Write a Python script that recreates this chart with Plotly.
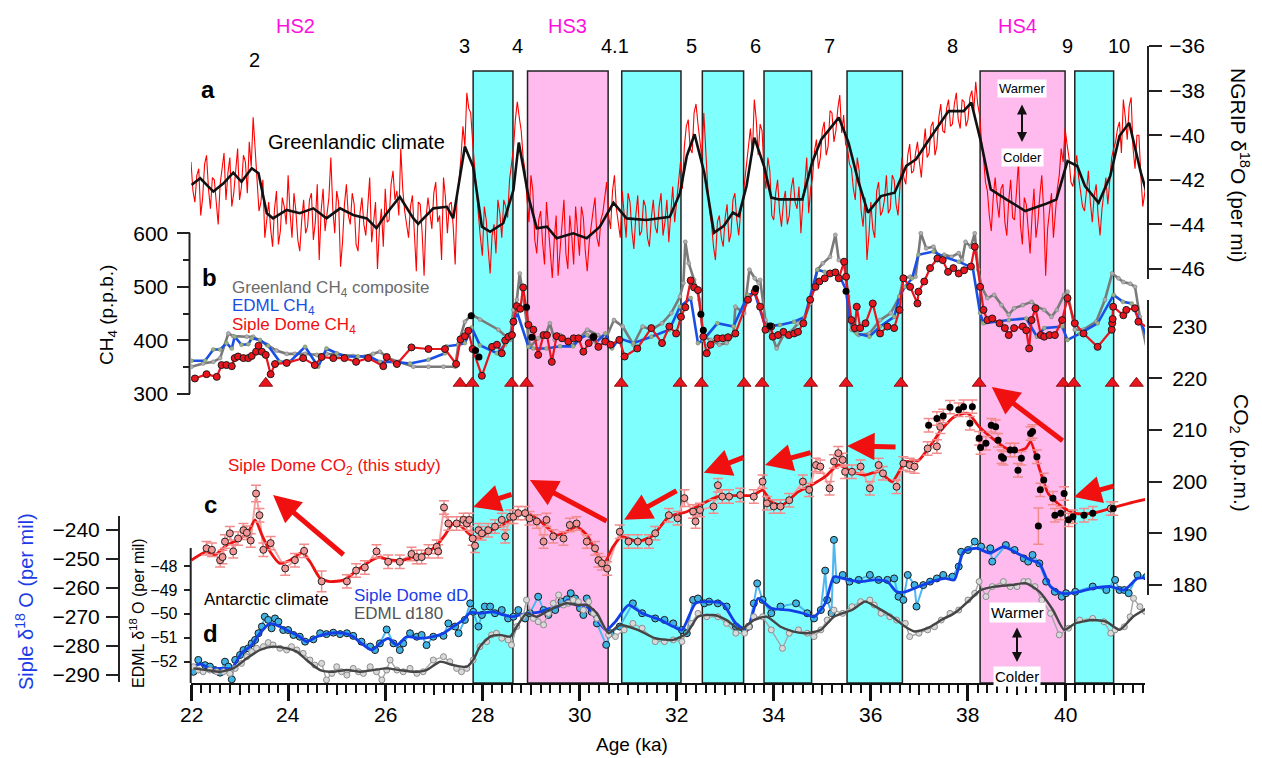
import plotly.graph_objects as go

# ======================= DATA =======================
# (a) NGRIP d18O raw record: values at 22.00, 22.08, ... and in-between values at 22.04, 22.12, ...
ngrip_start, ngrip_step = 22.0, 0.08
ngrip_raw = [
    -41.2, -43.0, -41.5, -42.8, -40.9, -43.3, -42.0, -44.0, -41.6, -42.9,
    -41.0, -42.6, -40.6, -42.3, -41.2, -40.3, -39.2, -41.8, -43.0, -44.6,
    -43.0, -45.0, -42.5, -44.3, -43.2, -41.8, -44.6, -43.4, -45.2, -42.9,
    -44.1, -42.6, -43.9, -45.6, -42.4, -43.6, -41.0, -44.4, -43.0, -44.8,
    -42.2, -44.0, -43.1, -45.2, -42.8, -44.5, -41.9, -43.8, -46.0, -43.3,
    -42.4, -43.8, -41.6, -42.5, -40.6, -43.4, -44.6, -42.7, -46.1, -43.1,
    -46.3, -42.8, -44.2, -42.1, -43.6, -41.9, -44.4, -43.0, -45.8, -42.0,
    -39.6, -38.1, -39.0, -41.5, -43.6, -45.4, -43.8, -46.2, -44.0, -42.9,
    -44.6, -43.2, -42.0, -40.6, -38.5, -39.8, -41.6, -43.9, -42.5, -45.3,
    -43.4, -45.8, -44.1, -46.4, -43.6, -45.1, -42.9, -46.0, -44.5, -43.2,
    -45.4, -43.7, -46.1, -44.0, -42.8, -45.0, -43.5, -42.1, -44.2, -41.8,
    -43.9, -42.5, -44.6, -43.0, -45.1, -42.7, -44.3, -43.2, -45.0, -42.9,
    -44.4, -42.6, -43.9, -44.8, -42.3, -43.0, -41.2, -40.5, -39.3, -40.8,
    -38.6, -40.2, -39.0, -42.3, -44.0, -45.6, -43.6, -45.0, -43.1, -44.4,
    -42.6, -44.5, -43.0, -41.2, -39.7, -38.4, -40.9, -39.8, -42.4, -41.6,
    -43.8, -42.0, -44.1, -42.5, -43.6, -41.9, -43.3, -44.4, -42.2, -43.5,
    -41.9, -40.2, -41.0, -39.4, -40.5, -39.0, -39.8, -38.2, -39.1, -40.6,
    -41.5, -42.9, -41.6, -44.1, -45.6, -43.0, -44.6, -42.1, -43.4, -41.8,
    -43.3, -42.0, -43.6, -41.0, -42.2, -40.4, -41.6, -40.3, -41.9, -39.7,
    -40.8, -39.4, -40.5, -38.6, -39.9, -38.4, -39.5, -38.1, -39.7, -38.5,
    -39.3, -38.0, -37.6, -39.1, -41.0, -42.5, -44.3, -41.9, -43.7, -42.2,
    -44.5, -42.0, -43.8, -41.2, -44.9, -43.1, -45.3, -42.4, -43.9, -41.8,
    -46.3, -43.5, -44.6, -42.4, -40.6, -39.7, -41.0, -42.3, -40.9, -42.5,
    -43.4, -41.6, -43.9, -42.2, -44.5, -42.6, -43.1, -41.0, -40.3, -39.4,
    -38.4, -40.2, -38.3, -41.5, -40.0, -43.2, -42.0,
]
ngrip_raw_mid = [
    -42.5, -41.8, -43.6, -41.3, -42.4, -41.9, -43.1, -42.2, -40.8, -41.7,
    -43.2, -41.5, -42.9, -40.9, -42.6, -41.4, -40.6, -43.4, -42.0, -43.9,
    -44.2, -43.3, -44.9, -42.8, -44.0, -43.5, -42.6, -44.7, -43.8, -44.4,
    -42.9, -44.7, -42.2, -43.4, -44.3, -42.8, -43.3, -42.5, -45.9, -43.1,
    -43.6, -42.6, -44.9, -43.5, -44.0, -42.9, -44.8, -43.0, -44.2, -45.0,
    -43.9, -42.2, -42.9, -43.6, -42.4, -44.1, -43.2, -44.4, -43.0, -44.4,
    -43.7, -43.5, -42.6, -43.9, -45.6, -42.8, -43.1, -44.1, -42.7, -41.0,
    -40.5, -38.8, -40.3, -42.6, -44.6, -43.2, -45.1, -44.5, -45.3, -43.5,
    -42.9, -43.7, -41.3, -39.3, -39.2, -41.0, -42.9, -41.8, -44.7, -43.8,
    -44.8, -43.0, -45.4, -44.7, -46.3, -44.0, -45.3, -43.6, -45.8, -44.3,
    -43.2, -45.2, -44.8, -43.4, -44.6, -43.8, -42.9, -43.6, -42.5, -43.3,
    -44.6, -43.7, -42.6, -44.3, -43.6, -44.5, -42.9, -44.6, -43.7, -44.1,
    -43.2, -44.5, -42.9, -43.5, -43.9, -41.8, -42.4, -39.6, -40.6, -39.0,
    -39.5, -41.0, -40.8, -43.4, -45.0, -43.9, -44.6, -43.7, -44.8, -42.9,
    -43.8, -43.4, -42.1, -40.5, -40.9, -39.3, -39.5, -41.6, -41.0, -43.6,
    -42.6, -43.4, -43.0, -44.0, -42.4, -43.0, -42.3, -43.0, -41.0, -42.4,
    -40.7, -41.5, -39.8, -40.9, -38.9, -40.3, -38.8, -39.9, -40.4, -41.3,
    -42.4, -41.0, -43.4, -42.8, -44.5, -44.2, -42.5, -43.6, -42.9, -43.5,
    -41.8, -43.1, -42.3, -41.9, -40.9, -41.7, -40.8, -41.2, -40.6, -41.0,
    -39.6, -40.9, -39.2, -39.8, -38.8, -39.6, -38.6, -39.3, -38.4, -39.6,
    -38.3, -38.9, -38.6, -40.3, -42.1, -43.6, -42.8, -43.0, -42.4, -43.9,
    -42.9, -43.7, -42.5, -44.0, -42.8, -44.2, -43.6, -44.6, -42.7, -43.4,
    -44.2, -42.6, -43.4, -41.8, -41.2, -40.4, -42.1, -41.6, -41.9, -43.2,
    -42.3, -43.0, -42.7, -43.6, -43.3, -41.9, -42.2, -40.6, -39.7, -40.8,
    -39.2, -38.7, -40.6, -40.0, -41.8, -42.6,
]

# (a) NGRIP smoothed (age ka, d18O)
ngrip_smooth = [
    (22.01, -42.23), (22.19, -41.93), (22.46, -42.53), (22.67, -42.16), (22.87, -41.68),
    (23.04, -42.09), (23.25, -41.48), (23.39, -41.71), (23.56, -43.5), (23.69, -43.73),
    (23.97, -43.35), (24.24, -43.5), (24.52, -43.28), (24.79, -43.73), (25.07, -43.28),
    (25.34, -43.58), (25.62, -43.73), (25.82, -44.17), (26.03, -43.5), (26.3, -42.76),
    (26.58, -43.73), (26.68, -43.98), (26.99, -43.28), (27.27, -43.21), (27.4, -43.73),
    (27.64, -40.51), (27.81, -41.41), (27.99, -44.1), (28.16, -44.33), (28.43, -43.95),
    (28.64, -42.46), (28.75, -40.33), (28.95, -42.76), (29.12, -44.17), (29.33, -44.1),
    (29.53, -44.62), (29.87, -44.4), (30.15, -44.62), (30.42, -44.1), (30.7, -43.03),
    (30.97, -43.73), (31.38, -43.8), (31.86, -43.66), (32.07, -42.6), (32.21, -40.93),
    (32.37, -39.96), (32.57, -41.68), (32.77, -44.37), (32.97, -44.07), (33.16, -43.47),
    (33.28, -43.62), (33.44, -42.28), (33.6, -40.11), (33.8, -41.38), (33.95, -42.8),
    (34.11, -42.88), (34.35, -42.88), (34.59, -42.88), (34.79, -41.23), (34.98, -40.19),
    (35.34, -39.21), (35.54, -40.33), (35.74, -42.05), (35.94, -43.47), (36.21, -42.73),
    (36.49, -42.58), (36.73, -41.38), (36.93, -41.08), (37.2, -40.19), (37.6, -38.92),
    (37.91, -38.92), (38.07, -38.54), (38.27, -40.33), (38.47, -42.43), (38.79, -42.88),
    (39.18, -43.4), (39.58, -43.1), (39.82, -42.88), (40.05, -41.16), (40.25, -41.38),
    (40.41, -42.28), (40.69, -43.03), (40.93, -41.83), (41.12, -40.04), (41.32, -39.44),
    (41.56, -41.68), (41.68, -42.58),
]

# (b) CH4 records (age ka, ppb)
greenland_ch4 = [
    (22.01, 351), (22.25, 357), (22.46, 360), (22.6, 367), (22.77, 413), (22.87, 408),
    (23.15, 407), (23.28, 407), (23.56, 392), (23.76, 381), (23.97, 375), (24.14, 375),
    (24.35, 375), (24.59, 373), (24.79, 375), (25.03, 373), (25.34, 371), (25.58, 370),
    (25.75, 375), (25.89, 379), (26.06, 367), (26.27, 360), (26.58, 351), (26.89, 351),
    (27.2, 351), (27.44, 351), (27.51, 394), (27.64, 435), (27.78, 448), (27.95, 439),
    (28.33, 420), (28.57, 401), (28.64, 457), (28.71, 476), (28.77, 525), (28.84, 482),
    (28.91, 432), (28.98, 388), (29.15, 404), (29.29, 407), (29.39, 432), (29.49, 401),
    (29.6, 410), (29.73, 401), (29.84, 391), (29.98, 401), (30.16, 420), (30.38, 410),
    (30.53, 401), (30.71, 438), (30.89, 426), (31.11, 392), (31.3, 426), (31.48, 420),
    (31.7, 432), (31.89, 451), (32.07, 482), (32.14, 507), (32.18, 584), (32.25, 544),
    (32.36, 513), (32.47, 476), (32.55, 407), (32.7, 401), (32.88, 392), (33.03, 395),
    (33.17, 410), (33.21, 463), (33.39, 451), (33.5, 532), (33.61, 516), (33.69, 507),
    (33.72, 513), (33.83, 438), (33.95, 413), (34.06, 385), (34.2, 410), (34.35, 416),
    (34.5, 432), (34.61, 435), (34.75, 469), (34.9, 532), (35.01, 544), (35.16, 556),
    (35.27, 597), (35.34, 550), (35.45, 544), (35.53, 482), (35.6, 420), (35.75, 410),
    (35.97, 413), (36.19, 438), (36.41, 451), (36.59, 482), (36.67, 516), (36.81, 519),
    (36.92, 519), (37.03, 600), (37.14, 572), (37.29, 575), (37.4, 556), (37.51, 560),
    (37.66, 556), (37.81, 563), (37.88, 550), (37.95, 584), (38.06, 575), (38.14, 600),
    (38.21, 532), (38.28, 500), (38.4, 479), (38.54, 485), (38.69, 466), (38.84, 448),
    (38.95, 460), (39.13, 466), (39.31, 472), (39.42, 463), (39.57, 457), (39.72, 444),
    (39.83, 457), (39.98, 485), (40.05, 491), (40.2, 420), (40.38, 420), (40.64, 435),
    (40.82, 476), (40.97, 525), (41.1, 516), (41.2, 509), (41.34, 506), (41.44, 500),
    (41.54, 444), (41.69, 382),
]
edml_ch4 = [
    (22.01, 362), (22.29, 362), (22.46, 383), (22.6, 383), (22.73, 395), (22.84, 385),
    (22.9, 407), (23.04, 392), (23.18, 393), (23.25, 404), (23.42, 401), (23.59, 390),
    (23.83, 360), (24.03, 360), (24.35, 388), (24.62, 351), (24.79, 385), (25.0, 376),
    (25.2, 370), (25.44, 370), (25.68, 370), (25.89, 360), (26.17, 360), (26.51, 357),
    (26.89, 364), (27.23, 376), (27.26, 389), (27.51, 392), (27.64, 395), (27.78, 424),
    (27.95, 391), (28.3, 376), (28.47, 392), (28.57, 404), (28.71, 454), (28.95, 388),
    (29.05, 385), (29.32, 385), (29.6, 389), (29.87, 389), (30.01, 404), (30.16, 410),
    (30.34, 396), (30.53, 413), (30.67, 385), (30.82, 404), (31.11, 395), (31.48, 407),
    (31.85, 420), (32.07, 463), (32.29, 479), (32.44, 395), (32.55, 401), (32.84, 432),
    (33.17, 426), (33.47, 485), (33.61, 488), (33.83, 426), (34.13, 429), (34.42, 435),
    (34.64, 444), (34.9, 532), (35.05, 528), (35.16, 525), (35.27, 525), (35.38, 516),
    (35.49, 494), (35.56, 438), (35.71, 413), (35.97, 407), (36.19, 426), (36.48, 444),
    (36.59, 482), (36.7, 500), (36.85, 516), (36.98, 560), (37.29, 566), (37.51, 556),
    (37.81, 547), (38.1, 535), (38.25, 451), (38.32, 432), (38.84, 438), (39.2, 441),
    (39.42, 407), (39.57, 423), (39.94, 426), (40.05, 401), (40.31, 413), (40.67, 432),
    (41.0, 485), (41.19, 472), (41.37, 469), (41.69, 407),
]
siple_ch4 = [
    (22.08, 329), (22.32, 337), (22.53, 332), (22.63, 354), (22.73, 354), (22.84, 352),
    (22.9, 367), (22.97, 370), (23.08, 367), (23.18, 367), (23.25, 371), (23.34, 379),
    (23.39, 390), (23.46, 379), (23.54, 373), (23.64, 337), (23.73, 356), (23.97, 358),
    (24.31, 367), (24.55, 354), (24.69, 369), (24.93, 367), (25.16, 367), (25.4, 360),
    (25.65, 367), (25.96, 352), (26.03, 369), (26.24, 356), (26.54, 387), (26.89, 384),
    (27.23, 384), (27.46, 356), (27.55, 402), (27.64, 408), (27.71, 418), (27.8, 384),
    (27.99, 334), (28.2, 388), (28.3, 392), (28.4, 376), (28.47, 400), (28.54, 407),
    (28.61, 410), (28.64, 435), (28.71, 464), (28.78, 459), (28.84, 499), (28.95, 429),
    (29.05, 420), (29.15, 373), (29.26, 410), (29.33, 410), (29.43, 360), (29.53, 408),
    (29.64, 404), (29.77, 398), (29.88, 404), (29.98, 404), (30.08, 379), (30.19, 395),
    (30.29, 407), (30.39, 388), (30.53, 398), (30.64, 392), (30.82, 401), (30.93, 370),
    (31.19, 385), (31.48, 423), (31.7, 395), (31.85, 426), (31.99, 413), (32.09, 444),
    (32.18, 462), (32.29, 512), (32.36, 499), (32.44, 494), (32.55, 407), (32.62, 376),
    (32.7, 392), (32.84, 404), (32.95, 404), (33.06, 406), (33.21, 413), (33.47, 476),
    (33.61, 491), (33.72, 463), (33.83, 420), (33.95, 426), (33.98, 407), (34.09, 410),
    (34.2, 416), (34.31, 410), (34.42, 413), (34.5, 416), (34.61, 432), (34.75, 476),
    (34.86, 500), (34.94, 510), (35.05, 516), (35.16, 525), (35.27, 527), (35.34, 516),
    (35.45, 547), (35.49, 519), (35.6, 438), (35.67, 423), (35.71, 463), (35.78, 423),
    (35.89, 432), (36.04, 469), (36.19, 413), (36.34, 426), (36.48, 423), (36.59, 457),
    (36.67, 516), (36.81, 500), (36.96, 469), (36.98, 491), (37.1, 510), (37.22, 535),
    (37.37, 553), (37.48, 550), (37.59, 528), (37.7, 535), (37.81, 525), (37.92, 531),
    (38.06, 538), (38.14, 575), (38.25, 500), (38.32, 457), (38.4, 438), (38.5, 441),
    (38.65, 432), (38.76, 423), (38.84, 410), (38.95, 423), (39.13, 426), (39.2, 419),
    (39.26, 385), (39.31, 438), (39.39, 460), (39.5, 410), (39.57, 407), (39.68, 410),
    (39.79, 410), (39.94, 438), (40.05, 479), (40.2, 432), (40.38, 413), (40.67, 388),
    (40.96, 420), (40.97, 432), (40.98, 440), (40.99, 463), (41.2, 447), (41.26, 457),
    (41.44, 460), (41.51, 435), (41.71, 423),
]
ch4_black_dots = [
    (27.77, 446), (27.86, 381), (27.93, 369), (28.91, 462), (29.02, 406),
    (30.29, 406), (32.5, 449), (32.55, 419), (33.63, 497), (33.92, 427), (35.49, 492),
]
ch4_triangle_ages = [23.54, 27.54, 27.79, 28.6, 28.91, 30.86, 32.07, 32.51, 33.39,
                     33.76, 34.76, 35.49, 36.62, 38.23, 39.96, 40.18, 40.97, 41.47]
ch4_triangle_level = 320

# (c) Siple Dome CO2 (age ka, ppm, 1-sigma)
co2_siple = [
    (22.32, 187.1, 1.3), (22.43, 186.8, 1.3), (22.6, 184.8, 1.3), (22.65, 185.4, 1.3),
    (22.7, 188.4, 1.3), (22.8, 190.0, 1.3), (22.87, 186.5, 1.3), (22.97, 189.0, 1.3),
    (23.08, 190.6, 1.3), (23.15, 190.1, 1.3), (23.23, 188.6, 1.3), (23.34, 197.7, 1.6),
    (23.41, 193.5, 1.3), (23.49, 186.8, 1.3), (23.64, 188.1, 1.3), (23.94, 183.2, 1.3),
    (24.14, 184.8, 1.3), (24.33, 186.6, 1.3), (24.69, 180.7, 2.0), (25.21, 180.7, 1.3),
    (25.4, 182.8, 1.3), (25.58, 183.4, 1.3), (25.82, 186.5, 1.3), (26.06, 184.5, 1.3),
    (26.3, 184.5, 1.3), (26.54, 186.0, 1.3), (26.65, 185.4, 1.3), (26.75, 185.4, 1.3),
    (26.89, 186.5, 1.3), (27.06, 187.4, 1.3), (27.09, 186.5, 1.3), (27.21, 195.0, 1.3),
    (27.3, 191.9, 1.3), (27.47, 191.9, 1.3), (27.61, 192.6, 1.3), (27.68, 191.9, 1.3),
    (27.73, 192.6, 1.3), (27.8, 189.0, 1.3), (27.85, 187.6, 1.3), (27.92, 190.6, 1.3),
    (27.99, 190.0, 1.3), (28.12, 190.6, 1.3), (28.26, 191.3, 1.3), (28.4, 192.6, 1.3),
    (28.47, 189.4, 1.3), (28.57, 193.2, 1.3), (28.64, 193.2, 1.3), (28.74, 193.9, 1.3),
    (28.88, 193.9, 1.3), (28.97, 192.9, 1.3), (29.12, 192.3, 1.3), (29.26, 188.4, 1.3),
    (29.32, 192.6, 1.3), (29.46, 189.4, 1.3), (29.67, 189.0, 1.3), (29.8, 191.6, 1.3),
    (29.94, 191.9, 1.3), (30.15, 188.4, 1.3), (30.32, 187.1, 1.3), (30.39, 184.8, 1.3),
    (30.46, 184.2, 1.3), (30.57, 183.2, 1.3), (30.83, 190.3, 1.3), (31.01, 188.4, 1.3),
    (31.2, 188.4, 1.3), (31.43, 188.4, 1.3), (31.56, 190.0, 1.3), (31.84, 193.5, 1.3),
    (32.02, 192.9, 1.3), (32.16, 196.8, 1.6), (32.34, 194.2, 1.3), (32.39, 192.3, 1.3),
    (32.48, 194.5, 1.3), (32.76, 195.2, 1.3), (32.85, 199.3, 1.3), (32.94, 197.1, 1.3),
    (33.08, 197.1, 1.3), (33.31, 197.4, 1.3), (33.59, 197.1, 1.3), (33.77, 200.0, 1.3),
    (33.86, 195.8, 1.3), (34.0, 195.2, 1.3), (34.14, 195.2, 1.3), (34.32, 196.4, 1.3),
    (34.6, 200.0, 1.3), (34.73, 198.4, 1.3), (34.87, 203.2, 1.3), (34.96, 202.9, 1.3),
    (35.15, 198.7, 1.3), (35.24, 203.9, 1.3), (35.33, 205.5, 1.3), (35.42, 204.2, 1.3),
    (35.47, 201.9, 1.3), (35.61, 201.9, 1.3), (35.79, 202.9, 1.3), (35.98, 198.7, 1.3),
    (36.16, 203.2, 1.3), (36.25, 201.6, 1.3), (36.53, 199.0, 1.3), (36.67, 203.5, 1.3),
    (36.8, 203.2, 1.3), (36.9, 202.9, 1.3), (37.17, 206.4, 1.3), (37.36, 206.8, 1.3),
    (37.43, 210.6, 1.3), (40.94, 194.8, 1.3),
]
co2_black = [
    (37.19, 210.9, 1.3), (37.36, 212.2, 1.3), (37.49, 212.7, 1.3), (37.63, 214.4, 1.3),
    (37.81, 213.9, 1.3), (37.91, 214.5, 1.3), (38.04, 211.3, 1.3), (38.09, 214.5, 1.3),
    (38.23, 208.4, 1.3), (38.26, 206.6, 1.3), (38.37, 207.4, 1.3), (38.48, 210.9, 1.3),
    (38.57, 210.6, 1.3), (38.62, 208.0, 1.3), (38.69, 204.8, 1.3), (38.73, 204.5, 1.3),
    (38.87, 206.1, 1.3), (38.96, 206.1, 1.3), (39.03, 202.2, 1.3), (39.1, 204.5, 1.3),
    (39.29, 209.3, 1.3), (39.33, 209.7, 1.3), (39.42, 204.8, 1.3), (39.45, 191.4, 3.5),
    (39.49, 198.4, 1.3), (39.56, 200.3, 1.3), (39.75, 196.8, 1.3), (39.79, 193.5, 1.3),
    (39.91, 193.9, 1.3), (39.98, 197.7, 1.3), (40.07, 192.6, 1.3), (40.16, 193.2, 1.3),
    (40.39, 193.5, 1.3), (40.57, 193.9, 1.3), (40.99, 194.8, 1.3),
]
co2_smooth = [
    (22.01, 184.8), (22.32, 186.45), (22.49, 185.8), (22.73, 187.7), (22.97, 188.7),
    (23.18, 190.3), (23.32, 192.6), (23.46, 189.7), (23.63, 186.45), (23.83, 184.2),
    (24.04, 184.8), (24.28, 186.25), (24.45, 184.5), (24.66, 181.3), (24.86, 180.65),
    (25.14, 180.97), (25.34, 182.26), (25.62, 184.2), (25.86, 185.35), (26.1, 184.84),
    (26.3, 184.7), (26.58, 185.35), (26.85, 186.25), (27.06, 187.7), (27.23, 189.67),
    (27.4, 191.9), (27.57, 191.3), (27.75, 189.67), (27.95, 189.03), (28.12, 190.3),
    (28.36, 191.3), (28.57, 192.57), (28.71, 193.54), (28.91, 193.86), (29.12, 192.9),
    (29.32, 191.3), (29.53, 189.67), (29.74, 190.3), (29.94, 191.3), (30.15, 189.67),
    (30.36, 186.13), (30.51, 184.32), (30.69, 187.41), (30.87, 189.35), (31.2, 188.38),
    (31.52, 189.67), (31.84, 193.2), (32.21, 194.18), (32.48, 195.47), (32.85, 197.08),
    (33.22, 197.28), (33.59, 197.4), (33.77, 198.37), (33.95, 196.12), (34.18, 195.47),
    (34.51, 198.05), (34.78, 199.34), (35.06, 200.95), (35.33, 203.21), (35.61, 201.92),
    (35.88, 201.27), (36.16, 201.92), (36.44, 199.99), (36.71, 203.85), (36.99, 204.18),
    (37.26, 207.4), (37.45, 209.98), (37.72, 212.56), (38.0, 213.2), (38.23, 210.62),
    (38.46, 208.69), (38.73, 206.75), (38.96, 205.79), (39.19, 206.43), (39.29, 207.72),
    (39.47, 202.56), (39.65, 197.73), (39.93, 195.15), (40.21, 193.86), (40.57, 193.86),
    (40.94, 194.83), (41.31, 195.8), (41.75, 196.76),
]
# CO2 lead/lag arrows: ((tail age, tail ppm), (head age, head ppm))
co2_arrows = [
    ((25.17, 185.6), (23.69, 197.4)), ((28.63, 197.6), (27.81, 195.1)),
    ((30.59, 192.2), (28.98, 200.3)), ((32.03, 198.4), (30.92, 192.6)),
    ((33.41, 204.8), (32.56, 201.7)), ((34.79, 205.7), (33.82, 203.2)),
    ((36.54, 206.7), (35.51, 206.9)), ((39.98, 207.7), (38.49, 218.3)),
    ((41.03, 199.2), (40.18, 197.0)),
]

# (d) Antarctic isotopes
siple_dd = [
    (22.05, -288.9), (22.15, -284.8), (22.29, -286.6), (22.39, -287.1), (22.49, -288.3),
    (22.6, -289.2), (22.7, -285.4), (22.77, -287.1), (22.84, -291.5), (22.91, -284.8),
    (23.01, -283.1), (23.08, -281.4), (23.18, -280.8), (23.25, -279.1), (23.32, -277.9),
    (23.39, -275.6), (23.46, -273.3), (23.52, -269.9), (23.59, -271.0), (23.66, -273.9),
    (23.73, -270.5), (23.8, -271.6), (23.9, -274.5), (24.0, -274.5), (24.11, -276.2),
    (24.24, -276.8), (24.35, -278.5), (24.52, -277.7), (24.66, -275.6), (24.79, -275.9),
    (24.93, -275.4), (25.07, -275.9), (25.21, -275.6), (25.34, -276.5), (25.51, -278.5),
    (25.69, -280.2), (25.79, -281.4), (25.89, -279.1), (26.03, -274.3), (26.17, -279.1),
    (26.3, -281.4), (26.37, -279.1), (26.51, -275.6), (26.65, -276.8), (26.75, -276.2),
    (26.85, -279.7), (26.99, -276.8), (27.2, -276.5), (27.3, -272.2), (27.44, -273.3),
    (27.51, -275.6), (27.64, -271.0), (27.75, -265.3), (27.81, -268.2), (27.92, -273.3),
    (27.99, -269.3), (28.05, -266.4), (28.16, -266.4), (28.26, -268.7), (28.4, -267.6),
    (28.53, -270.5), (28.64, -269.9), (28.74, -267.6), (28.88, -270.5), (28.98, -268.7),
    (29.15, -263.0), (29.26, -267.6), (29.36, -269.3), (29.5, -267.6), (29.63, -264.7),
    (29.74, -263.9), (29.82, -261.8), (29.91, -263.6), (30.01, -267.0), (30.08, -269.3),
    (30.15, -263.6), (30.25, -268.2), (30.36, -272.2), (30.55, -279.6), (30.64, -275.6),
    (30.83, -273.3), (31.1, -265.3), (31.29, -268.7), (31.56, -270.5), (31.75, -271.0),
    (31.93, -272.2), (32.11, -274.5), (32.21, -275.6), (32.34, -264.1), (32.44, -263.6),
    (32.57, -265.3), (32.67, -264.7), (32.85, -265.3), (33.03, -266.4), (33.22, -273.3),
    (33.4, -274.5), (33.49, -273.3), (33.59, -265.3), (33.66, -258.4), (33.77, -264.1),
    (33.95, -268.7), (34.14, -266.4), (34.46, -265.3), (34.69, -268.7), (34.83, -270.5),
    (34.97, -267.6), (35.06, -254.0), (35.1, -264.1), (35.19, -268.7), (35.24, -243.4),
    (35.29, -257.2), (35.42, -255.5), (35.56, -257.8), (35.75, -257.2), (35.98, -255.5),
    (36.16, -257.2), (36.34, -257.2), (36.48, -256.7), (36.57, -263.0), (36.67, -264.1),
    (36.76, -255.5), (36.9, -259.0), (36.94, -266.4), (37.08, -259.0), (37.22, -257.8),
    (37.36, -256.7), (37.49, -255.5), (37.68, -256.1), (37.81, -252.6), (37.86, -247.5),
    (38.0, -246.9), (38.14, -244.0), (38.27, -245.7), (38.46, -246.3), (38.5, -250.9),
    (38.78, -245.2), (38.96, -246.9), (39.15, -249.8), (39.24, -250.9), (39.33, -248.6),
    (39.47, -251.5), (39.61, -257.8), (39.79, -261.3), (39.93, -263.0), (40.02, -261.8),
    (40.21, -261.3), (40.57, -259.5), (40.85, -260.7), (41.03, -257.2), (41.12, -260.7),
    (41.22, -260.7), (41.31, -261.8), (41.49, -255.5), (41.68, -256.1),
]
siple_dd_smooth = [
    (22.05, -287.1), (22.19, -286.2), (22.39, -287.7), (22.67, -287.7), (22.84, -287.7),
    (23.04, -282.5), (23.25, -279.7), (23.42, -275.6), (23.63, -272.2), (23.83, -273.3),
    (24.04, -275.1), (24.24, -276.8), (24.38, -278.5), (24.59, -276.8), (24.86, -275.6),
    (25.14, -275.6), (25.34, -276.8), (25.51, -279.1), (25.72, -281.4), (25.89, -279.1),
    (26.06, -277.4), (26.24, -279.7), (26.44, -276.8), (26.72, -277.4), (26.99, -276.8),
    (27.2, -275.6), (27.4, -273.3), (27.61, -271.0), (27.75, -268.5), (27.95, -268.7),
    (28.23, -268.2), (28.43, -269.3), (28.64, -269.9), (28.77, -269.3), (28.98, -268.7),
    (29.19, -268.2), (29.39, -267.0), (29.6, -266.2), (29.77, -264.1), (29.94, -265.9),
    (30.15, -266.4), (30.36, -271.0), (30.55, -274.5), (30.74, -271.6), (31.01, -265.9),
    (31.29, -268.7), (31.66, -271.0), (31.93, -273.3), (32.11, -274.5), (32.39, -265.3),
    (32.67, -264.7), (32.94, -265.3), (33.22, -272.2), (33.45, -274.5), (33.68, -263.6),
    (33.95, -267.0), (34.32, -267.6), (34.6, -268.7), (34.83, -269.9), (35.06, -265.3),
    (35.24, -256.1), (35.42, -256.7), (35.79, -257.8), (36.07, -257.2), (36.34, -257.8),
    (36.53, -261.3), (36.71, -261.3), (36.99, -259.5), (37.26, -257.8), (37.54, -256.7),
    (37.72, -257.2), (37.91, -247.5), (38.18, -246.3), (38.46, -248.0), (38.73, -245.7),
    (39.01, -248.0), (39.29, -250.3), (39.47, -251.5), (39.7, -259.5), (39.93, -261.8),
    (40.21, -261.6), (40.57, -260.1), (40.94, -259.5), (41.22, -260.7), (41.49, -256.7),
    (41.75, -256.7),
]
edml_d18o = [
    (22.05, -52.21), (22.15, -52.35), (22.25, -52.42), (22.39, -52.35), (22.53, -52.42),
    (22.67, -52.42), (22.8, -52.49), (22.91, -52.28), (23.04, -52.07), (23.15, -51.79),
    (23.25, -51.58), (23.35, -51.44), (23.49, -51.37), (23.59, -51.2), (23.69, -51.3),
    (23.83, -51.44), (23.97, -51.51), (24.07, -51.37), (24.18, -51.51), (24.31, -51.65),
    (24.45, -51.93), (24.55, -52.14), (24.69, -52.07), (24.79, -52.76), (24.9, -52.49),
    (25.0, -52.21), (25.1, -52.42), (25.21, -52.56), (25.34, -52.28), (25.45, -52.42),
    (25.55, -52.49), (25.69, -52.21), (25.82, -52.42), (25.93, -52.76), (26.03, -52.35),
    (26.1, -51.93), (26.24, -52.35), (26.37, -52.42), (26.51, -52.28), (26.65, -52.49),
    (26.78, -52.42), (26.99, -51.93), (27.2, -51.79), (27.33, -52.0), (27.47, -52.28),
    (27.57, -52.42), (27.68, -52.28), (27.81, -51.93), (27.95, -51.37), (28.09, -51.16),
    (28.19, -50.88), (28.29, -50.81), (28.4, -51.02), (28.53, -51.09), (28.6, -51.3),
    (28.71, -50.53), (28.84, -50.12), (28.91, -49.42), (29.05, -50.19), (29.15, -50.33),
    (29.26, -50.46), (29.36, -49.98), (29.46, -49.56), (29.57, -49.21), (29.67, -49.63),
    (29.77, -49.56), (29.87, -49.42), (29.98, -49.49), (30.08, -49.84), (30.19, -49.49),
    (30.29, -49.98), (30.36, -50.19), (30.6, -50.88), (30.74, -50.95), (30.92, -50.67),
    (31.1, -50.4), (31.29, -50.6), (31.56, -51.16), (31.75, -51.16), (31.93, -51.09),
    (32.11, -51.16), (32.3, -50.4), (32.44, -49.98), (32.62, -50.12), (32.85, -50.12),
    (33.03, -50.4), (33.22, -50.81), (33.4, -50.81), (33.49, -50.54), (33.59, -50.12),
    (33.77, -50.12), (33.95, -50.67), (34.18, -51.44), (34.32, -50.81), (34.51, -50.67),
    (34.69, -50.81), (34.83, -50.95), (34.97, -50.67), (35.1, -50.26), (35.24, -49.84),
    (35.42, -49.98), (35.61, -49.7), (35.79, -49.49), (35.98, -49.42), (36.07, -49.63),
    (36.21, -49.98), (36.39, -50.12), (36.53, -50.26), (36.71, -50.4), (36.8, -50.95),
    (36.99, -50.81), (37.17, -50.67), (37.31, -50.54), (37.45, -50.26), (37.63, -49.98),
    (37.81, -49.84), (38.0, -49.42), (38.14, -49.14), (38.23, -48.65), (38.37, -49.28),
    (38.5, -48.86), (38.73, -48.65), (38.87, -48.86), (39.01, -48.86), (39.15, -48.65),
    (39.24, -48.65), (39.38, -48.86), (39.52, -49.42), (39.7, -49.98), (39.88, -50.88),
    (40.07, -50.6), (40.3, -50.26), (40.57, -50.19), (40.8, -50.33), (40.94, -50.81),
    (41.03, -50.67), (41.22, -50.54), (41.34, -50.12), (41.41, -49.35), (41.54, -49.7),
    (41.65, -49.9),
]
edml_d18o_smooth = [
    (22.05, -52.28), (22.32, -52.35), (22.6, -52.42), (22.87, -52.28), (23.15, -51.86),
    (23.42, -51.51), (23.69, -51.37), (23.97, -51.44), (24.18, -51.58), (24.38, -51.93),
    (24.66, -52.35), (24.93, -52.42), (25.21, -52.35), (25.48, -52.42), (25.75, -52.35),
    (26.03, -52.28), (26.3, -52.35), (26.58, -52.42), (26.85, -52.35), (27.13, -52.0),
    (27.4, -52.14), (27.68, -52.21), (27.81, -51.93), (27.95, -51.37), (28.16, -50.95),
    (28.36, -50.88), (28.57, -50.95), (28.71, -50.53), (28.91, -49.98), (29.12, -50.12),
    (29.32, -49.91), (29.53, -49.7), (29.74, -49.56), (29.94, -49.63), (30.15, -49.63),
    (30.36, -49.98), (30.6, -50.81), (30.83, -50.47), (31.2, -50.67), (31.56, -51.02),
    (31.93, -51.09), (32.21, -50.81), (32.44, -50.12), (32.76, -50.05), (33.03, -50.26),
    (33.31, -50.67), (33.59, -50.26), (33.86, -50.12), (34.14, -50.54), (34.41, -50.74),
    (34.69, -50.81), (34.97, -50.67), (35.24, -50.12), (35.61, -49.84), (35.88, -49.49),
    (36.16, -49.77), (36.44, -50.12), (36.71, -50.54), (36.9, -50.74), (37.17, -50.6),
    (37.45, -50.26), (37.72, -49.98), (38.0, -49.49), (38.27, -49.0), (38.55, -48.86),
    (38.92, -48.79), (39.19, -48.72), (39.47, -49.07), (39.75, -49.84), (39.98, -50.67),
    (40.21, -50.4), (40.57, -50.26), (40.85, -50.33), (41.12, -50.67), (41.4, -50.12),
    (41.75, -49.7),
]

# Stadial / Heinrich stadial intervals (ka)
cyan_bands = [(27.81, 28.63), (30.87, 32.09), (32.53, 33.38), (33.80, 34.78),
              (35.51, 36.65), (40.20, 41.00)]
pink_bands = [(28.93, 30.59), (38.25, 40.00)]
event_labels = ["2", "3", "4", "4.1", "5", "6", "7", "8", "9", "10"]
event_ages = [23.30, 27.64, 28.72, 30.73, 32.31, 33.62, 35.14, 37.68, 40.04, 41.12]
hs_labels = ["HS2", "HS3", "HS4"]
hs_ages = [24.16, 29.76, 39.02]
age_ticks = [22, 24, 26, 28, 30, 32, 34, 36, 38, 40]

# ======================= LAYOUT GEOMETRY =======================
# page body has an 8 px margin: the figure is shifted by OFF px on screen
OFF = 8
W, H = 1262 - OFF, 758 - OFF
FONT = "Liberation Sans, Arial, Helvetica, sans-serif"
NARROW = "Liberation Sans Narrow, Liberation Sans, Arial, sans-serif"


def px(x):
    return (x - OFF) / W


def py(y):
    return 1 - (y - OFF) / H


X_LEFT, X_RIGHT, Y_BOT = 191, 1145, 683
AGE_MIN = 22.0
AGE_MAX = AGE_MIN + (X_RIGHT - X_LEFT) / 48.56
YDOM = [py(Y_BOT), 1.0]


def yrange(v1, p1, v2, p2):
    s = (v2 - v1) / (p2 - p1)
    return [v1 + (Y_BOT - p1) * s, v1 + (OFF - p1) * s]


def unzip(pairs, i):
    return [p[i] for p in pairs]


def with_gaps(pairs, max_gap=1.0):
    xs, ys = [], []
    prev = None
    for p in pairs:
        if prev is not None and p[0] - prev > max_gap:
            xs.append(None)
            ys.append(None)
        xs.append(p[0])
        ys.append(p[1])
        prev = p[0]
    return xs, ys


fig = go.Figure()

# ---- panel a
ngrip_age, ngrip_val = [], []
for i, v in enumerate(ngrip_raw):
    ngrip_age.append(round(ngrip_start + ngrip_step * i, 3))
    ngrip_val.append(v)
    if i < len(ngrip_raw_mid):
        ngrip_age.append(round(ngrip_start + ngrip_step * (i + 0.5), 3))
        ngrip_val.append(ngrip_raw_mid[i])
fig.add_trace(go.Scatter(x=ngrip_age, y=ngrip_val, mode="lines",
                         line=dict(color="#FF0000", width=1.1), yaxis="y"))
fig.add_trace(go.Scatter(x=unzip(ngrip_smooth, 0), y=unzip(ngrip_smooth, 1), mode="lines",
                         line=dict(color="#111111", width=2.6), yaxis="y"))

# ---- panel b
fig.add_trace(go.Scatter(x=unzip(greenland_ch4, 0), y=unzip(greenland_ch4, 1), mode="lines+markers",
                         line=dict(color="#7A7A7A", width=2.6),
                         marker=dict(size=4, color="#B0B0B0", line=dict(color="#808080", width=0.6)),
                         yaxis="y2"))
fig.add_trace(go.Scatter(x=unzip(edml_ch4, 0), y=unzip(edml_ch4, 1), mode="lines+markers",
                         line=dict(color="#1A4FE6", width=2.6),
                         marker=dict(size=4, color="#9DB08A", line=dict(color="#6F8A5A", width=0.5)),
                         yaxis="y2"))
fig.add_trace(go.Scatter(x=unzip(siple_ch4, 0), y=unzip(siple_ch4, 1), mode="lines+markers",
                         line=dict(color="#E8141E", width=2.2),
                         marker=dict(size=7, color="#E8141E", line=dict(color="#1A1A1A", width=1)),
                         yaxis="y2"))
fig.add_trace(go.Scatter(x=unzip(ch4_black_dots, 0), y=unzip(ch4_black_dots, 1), mode="markers",
                         marker=dict(size=7, color="#000000"), yaxis="y2"))
fig.add_trace(go.Scatter(x=ch4_triangle_ages, y=[ch4_triangle_level] * len(ch4_triangle_ages),
                         mode="markers",
                         marker=dict(symbol="triangle-up", size=12, color="#E8141E",
                                     line=dict(color="#7A0000", width=0.8)),
                         yaxis="y2", cliponaxis=False))

# ---- panel d
fig.add_trace(go.Scatter(x=unzip(edml_d18o, 0), y=unzip(edml_d18o, 1), mode="lines+markers",
                         line=dict(color="#A6A6A6", width=1.4),
                         marker=dict(size=6, color="#D9D9D9", line=dict(color="#8C8C8C", width=1)),
                         yaxis="y5"))
fig.add_trace(go.Scatter(x=unzip(edml_d18o_smooth, 0), y=unzip(edml_d18o_smooth, 1), mode="lines",
                         line=dict(color="#454545", width=2.4, shape="spline", smoothing=0.6),
                         yaxis="y5"))
fig.add_trace(go.Scatter(x=unzip(siple_dd, 0), y=unzip(siple_dd, 1), mode="lines+markers",
                         line=dict(color="#4DB8F0", width=2),
                         marker=dict(size=7, color="#3FB4E4", line=dict(color="#1A1A1A", width=1)),
                         yaxis="y4"))
fig.add_trace(go.Scatter(x=unzip(siple_dd_smooth, 0), y=unzip(siple_dd_smooth, 1), mode="lines",
                         line=dict(color="#1240E6", width=2.8, shape="spline", smoothing=0.6),
                         yaxis="y4"))

# ---- panel c
gx, gy = with_gaps(co2_siple)
fig.add_trace(go.Scatter(x=gx, y=gy, mode="lines", connectgaps=False,
                         line=dict(color="#F5A3A3", width=2), yaxis="y3"))
fig.add_trace(go.Scatter(x=unzip(co2_smooth, 0), y=unzip(co2_smooth, 1), mode="lines",
                         line=dict(color="#EE1111", width=2.8, shape="spline", smoothing=0.6),
                         yaxis="y3"))
fig.add_trace(go.Scatter(x=unzip(co2_siple, 0), y=unzip(co2_siple, 1), mode="markers",
                         error_y=dict(type="data", array=unzip(co2_siple, 2), color="#F28C8C",
                                      thickness=1.5, width=5),
                         marker=dict(size=7, color="#F19595", line=dict(color="#222222", width=1)),
                         yaxis="y3"))
fig.add_trace(go.Scatter(x=unzip(co2_black, 0), y=unzip(co2_black, 1), mode="markers",
                         error_y=dict(type="data", array=unzip(co2_black, 2), color="#F28C8C",
                                      thickness=1.5, width=5),
                         marker=dict(size=7, color="#000000"), yaxis="y3"))

# invisible trace for the secondary tick axis
fig.add_trace(go.Scatter(x=[AGE_MIN], y=[-40], mode="markers", marker=dict(opacity=0),
                         xaxis="x2", yaxis="y", hoverinfo="skip"))

# ======================= SHAPES =======================
shapes = []
for a0, a1 in cyan_bands:
    shapes.append(dict(type="rect", xref="x", yref="paper", x0=a0, x1=a1, y0=py(Y_BOT), y1=py(71),
                       fillcolor="#80FFFF", line=dict(color="#222222", width=1.5), layer="below"))
for a0, a1 in pink_bands:
    shapes.append(dict(type="rect", xref="x", yref="paper", x0=a0, x1=a1, y0=py(Y_BOT), y1=py(71),
                       fillcolor="#FFBBEE", line=dict(color="#222222", width=1.5), layer="below"))

axis_lines = [(1148, 46, 279), (1148, 300, 595), (189.5, 233, 394), (119, 516, 682), (190.7, 548, 683)]
for xx, y0, y1 in axis_lines:
    shapes.append(dict(type="line", xref="paper", yref="paper", x0=px(xx), x1=px(xx),
                       y0=py(y0), y1=py(y1), line=dict(color="#222222", width=2)))

# ======================= ANNOTATIONS =======================
ann = []


def text(t, x, y, size=20, color="#000000", family=FONT, xanchor="center", angle=0, bold=False, bg=None):
    d = dict(text=("<b>%s</b>" % t) if bold else t, xref="paper", yref="paper", x=px(x), y=py(y),
             showarrow=False, xanchor=xanchor, yanchor="middle", textangle=angle,
             font=dict(size=size, color=color, family=family))
    if bg:
        d["bgcolor"] = bg
        d["borderpad"] = 1
    ann.append(d)


def age_px(a):
    return X_LEFT + (a - AGE_MIN) * 48.56


for lab, a in zip(event_labels, event_ages):
    text(lab, age_px(a), 60 if lab == "2" else 46, size=20)
for lab, a in zip(hs_labels, hs_ages):
    text(lab, age_px(a), 26, size=20, color="#FF10DC")
for a in age_ticks:
    text(str(a), age_px(a), 714, size=21, family=NARROW)

text("a", 208, 90, size=24, bold=True)
text("b", 209, 277, size=24, bold=True)
text("c", 210, 505, size=24, bold=True)
text("d", 210, 633, size=24, bold=True)
text("Greenlandic climate", 356, 142, size=20)
text("Greenland CH<sub>4</sub> composite", 230, 289, size=17, color="#6B6B6B", xanchor="left")
text("EDML CH<sub>4</sub>", 230, 307, size=17, color="#1A4FE6", xanchor="left")
text("Siple Dome CH<sub>4</sub>", 230, 326, size=17, color="#F01010", xanchor="left")
text("Siple Dome CO<sub>2</sub> (this study)", 335, 467, size=17, color="#F01010")
text("Antarctic climate", 266, 599, size=17)
text("Siple Dome dD", 352, 595, size=17, color="#1A3CE6", xanchor="left")
text("EDML d180", 352, 613, size=17, color="#555555", xanchor="left")

text("NGRIP δ<sup>18</sup>O (per mi)", 1240, 165, size=21, angle=90)
text("CO<sub>2</sub> (p.p.m.)", 1240, 453, size=21, angle=90)
text("CH<sub>4</sub> (p.p.b.)", 108, 315, size=19, angle=-90)
text("Siple δ<sup>18</sup> O (per mil)", 24, 602, size=20, angle=-90, color="#1A3CE6")
text("EDML δ<sup>18</sup> O (per mil)", 137, 613, size=16, angle=-90)
text("Age (ka)", 632, 744, size=19, family=NARROW)

text("Warmer", 1022, 89, size=13, family=NARROW, bg="#FFFFFF")
text("Colder", 1022, 157, size=13, family=NARROW, bg="#FFFFFF")
text("Warmer", 1017, 612, size=15, family=NARROW, bg="#FFFFFF")
text("Colder", 1017, 676, size=15, family=NARROW, bg="#FFFFFF")

for (xa, y0, y1) in [(1022, 103, 142), (1017, 626, 662)]:
    ann.append(dict(xref="paper", yref="paper", x=px(xa), y=py(y1), ax=0, ay=-(y1 - y0),
                    axref="pixel", ayref="pixel", text="", showarrow=True, arrowhead=2,
                    startarrowhead=2, arrowside="end+start", arrowsize=1, startarrowsize=1,
                    arrowwidth=2, arrowcolor="#111111"))

for (ta, tv), (ha, hv) in co2_arrows:
    ann.append(dict(xref="x", yref="y3", x=ha, y=hv, axref="x", ayref="y3", ax=ta, ay=tv,
                    text="", showarrow=True, arrowhead=2, arrowsize=1.1, arrowwidth=5,
                    arrowcolor="#F01010", standoff=0))

# ======================= AXES =======================
tickfont = dict(size=21, family=FONT, color="#000000")


def yax(rng, pos, side, vals, labels, ticklen=13, font=tickfont, overlay=True, standoff=4):
    d = dict(domain=YDOM, range=rng, anchor="free", position=pos, side=side,
             tickmode="array", tickvals=vals, ticktext=labels, ticks="outside",
             ticklen=ticklen, tickwidth=2, tickcolor="#222222", tickfont=font,
             showgrid=False, zeroline=False, showline=False, automargin=False,
             ticklabelstandoff=standoff)
    if overlay:
        d["overlaying"] = "y"
    return d


def minus(v):
    return ("−%g" % abs(v)) if v < 0 else "%g" % v


ngrip_ticks = [-36, -38, -40, -42, -44, -46]
ch4_ticks = [300, 400, 500, 600]
co2_ticks = [180, 190, 200, 210, 220, 230]
dd_ticks = [-240, -250, -260, -270, -280, -290]
edml_ticks = [-48, -49, -50, -51, -52]

layout_y = yax(yrange(-36, 46, -46, 269), px(1148), "right", ngrip_ticks,
               [minus(v) for v in ngrip_ticks], overlay=False, standoff=3)
layout_y2 = yax(yrange(600, 233.3, 300, 394), px(189.5), "left", ch4_ticks,
                [str(v) for v in ch4_ticks])
layout_y2["minor"] = dict(tickvals=[350, 450, 550], ticklen=7, tickwidth=2, tickcolor="#222222",
                          ticks="outside")
layout_y3 = yax(yrange(230, 326.5, 180, 585), px(1148), "right", co2_ticks,
                [str(v) for v in co2_ticks], standoff=6)
layout_y4 = yax(yrange(-240, 530, -290, 675), px(119), "left", dd_ticks,
                [minus(v) for v in dd_ticks], standoff=2)
layout_y5 = yax(yrange(-48, 566, -52, 661.7), px(190.7), "left", edml_ticks,
                [minus(v) for v in edml_ticks], ticklen=7,
                font=dict(size=16, family=FONT, color="#000000"), standoff=3)

fig.update_layout(
    width=W, height=H,
    margin=dict(l=0, r=0, t=0, b=0, autoexpand=False),
    paper_bgcolor="#FFFFFF", plot_bgcolor="rgba(0,0,0,0)",
    showlegend=False,
    xaxis=dict(domain=[px(X_LEFT), px(X_RIGHT)], range=[AGE_MIN, AGE_MAX], anchor="y",
               tickmode="linear", tick0=22, dtick=2, ticks="outside", ticklen=16, tickwidth=3,
               tickcolor="#111111", showticklabels=False,
               showline=True, linecolor="#111111", linewidth=1.5, showgrid=False, zeroline=False,
               automargin=False,
               minor=dict(tick0=22, dtick=0.2, ticklen=8, tickwidth=1.5, tickcolor="#111111",
                          ticks="outside", showgrid=False)),
    xaxis2=dict(overlaying="x", anchor="y", range=[AGE_MIN, AGE_MAX], tickmode="linear",
                tick0=23, dtick=2, ticks="outside", ticklen=11, tickwidth=1.5, tickcolor="#111111",
                showticklabels=False, showline=False, showgrid=False, zeroline=False,
                automargin=False, side="bottom"),
    yaxis=layout_y, yaxis2=layout_y2, yaxis3=layout_y3, yaxis4=layout_y4, yaxis5=layout_y5,
    shapes=shapes, annotations=ann,
)

fig.write_html("out.html")
